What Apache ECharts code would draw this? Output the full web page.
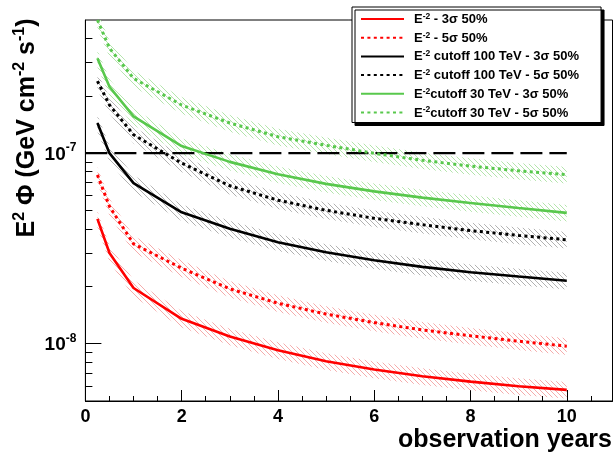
<!DOCTYPE html>
<html>
<head>
<meta charset="utf-8">
<script src="https://cdn.jsdelivr.net/npm/echarts@6/dist/echarts.min.js"></script>
<style>
html, body { margin: 0; padding: 0; background: #fff; }
#main { width: 614px; height: 459px; }
</style>
</head>
<body>
<div id="main"></div>
<script>
// observation years at which sensitivities were computed
var years = [0.25, 0.5, 1, 2, 3, 4, 5, 6, 7, 8, 9, 10];

// E^2 Phi (GeV cm^-2 s^-1)
var e2_3s = [4.52e-8, 2.99e-8, 1.96e-8, 1.35e-8, 1.09e-8, 9.24e-9, 8.09e-9, 7.32e-9, 6.75e-9, 6.32e-9, 5.98e-9, 5.72e-9];
var e2_5s = [7.69e-8, 5.25e-8, 3.34e-8, 2.49e-8, 1.94e-8, 1.63e-8, 1.43e-8, 1.29e-8, 1.18e-8, 1.10e-8, 1.03e-8, 9.70e-9];
var cut100_3s = [1.44e-7, 1.00e-7, 6.96e-8, 4.89e-8, 4.01e-8, 3.41e-8, 3.02e-8, 2.74e-8, 2.53e-8, 2.37e-8, 2.25e-8, 2.14e-8];
var cut100_5s = [2.39e-7, 1.79e-7, 1.25e-7, 8.86e-8, 6.74e-8, 5.66e-8, 5.01e-8, 4.55e-8, 4.21e-8, 3.92e-8, 3.70e-8, 3.51e-8];
var cut30_3s = [3.15e-7, 2.23e-7, 1.56e-7, 1.09e-7, 9.00e-8, 7.74e-8, 6.90e-8, 6.30e-8, 5.84e-8, 5.47e-8, 5.15e-8, 4.86e-8];
var cut30_5s = [5.00e-7, 3.56e-7, 2.47e-7, 1.79e-7, 1.44e-7, 1.22e-7, 1.10e-7, 9.98e-8, 9.17e-8, 8.55e-8, 8.08e-8, 7.70e-8];

// relative half width of the hatched band around every curve
var bandRel = 0.1;

// reference flux level (dashed line)
var refX = [0, 10];
var refFlux = 1e-7;

// axis ticks
var xMajor = [0, 2, 4, 6, 8, 10];
var xMinor = [0.5, 1, 1.5, 2.5, 3, 3.5, 4.5, 5, 5.5, 6.5, 7, 7.5, 8.5, 9, 9.5, 10.5];
var yMajor = [1e-8, 1e-7];
var yMinor = [6e-9, 7e-9, 8e-9, 9e-9, 2e-8, 3e-8, 4e-8, 5e-8, 6e-8, 7e-8, 8e-8, 9e-8, 2e-7, 3e-7, 4e-7];

var names = ['e2_3s', 'e2_5s', 'cut100_3s', 'cut100_5s', 'cut30_3s', 'cut30_5s'];
var legendText = {
    e2_3s: '{e|E}{s|-2}{t| - 3σ 50%}',
    e2_5s: '{e|E}{s|-2}{t| - 5σ 50%}',
    cut100_3s: '{e|E}{s|-2}{t| cutoff 100 TeV - 3σ 50%}',
    cut100_5s: '{e|E}{s|-2}{t| cutoff 100 TeV - 5σ 50%}',
    cut30_3s: '{e|E}{s|-2}{t|cutoff 30 TeV - 3σ 50%}',
    cut30_5s: '{e|E}{s|-2}{t|cutoff 30 TeV - 5σ 50%}'
};
var curveData = {e2_3s: e2_3s, e2_5s: e2_5s, cut100_3s: cut100_3s, cut100_5s: cut100_5s, cut30_3s: cut30_3s, cut30_5s: cut30_5s};

var RED = '#ff0000', BLACK = '#000000', GREEN = '#58c84c';
var lineColor = {e2_3s: RED, e2_5s: RED, cut100_3s: BLACK, cut100_5s: BLACK, cut30_3s: GREEN, cut30_5s: GREEN};
var hatchColor = {e2_3s: '#f5acac', e2_5s: '#f5acac', cut100_3s: '#b2b2b2', cut100_5s: '#b2b2b2', cut30_3s: '#b4e4ac', cut30_5s: '#b4e4ac'};
var FONT = 'Liberation Sans';

function pairs(xs, ys) {
    return xs.map(function(x, i) { return [x, ys[i]]; });
}

// small tile with a "\" diagonal line, used as hatch fill
function hatch(color) {
    var s = 5;
    var c = document.createElement('canvas');
    c.width = s; c.height = s;
    var g = c.getContext('2d');
    g.strokeStyle = color;
    g.lineWidth = 1;
    g.beginPath();
    g.moveTo(-1, -1); g.lineTo(s + 1, s + 1);
    g.moveTo(-1, s - 1); g.lineTo(1, s + 1);
    g.moveTo(s - 1, -1); g.lineTo(s + 1, 1);
    g.stroke();
    return {image: c, repeat: 'repeat'};
}

var series = [];
series.push({
    type: 'custom', name: 'bands', silent: true, z: 1,
    data: names.map(function(n, k) { return [years[0], curveData[n][0], k]; }),
    encode: {x: 0, y: 1},
    renderItem: function(params, api) {
        var n = names[api.value(2)];
        var vals = curveData[n];
        var upper = years.map(function(x, i) { return api.coord([x, vals[i] * (1 + bandRel)]); });
        var lower = years.map(function(x, i) { return api.coord([x, vals[i] * (1 - bandRel)]); }).reverse();
        var cs = params.coordSys;
        return {
            type: 'polygon',
            shape: {points: upper.concat(lower)},
            style: {fill: hatch(hatchColor[n]), stroke: null},
            clipPath: {type: 'rect', shape: {x: cs.x, y: cs.y, width: cs.width, height: cs.height}}
        };
    }
});
names.forEach(function(n) {
    var dotted = n.indexOf('5s') >= 0;
    series.push({
        name: n, type: 'line', data: pairs(years, curveData[n]),
        showSymbol: false, symbol: 'none', z: 3, silent: true,
        itemStyle: {color: lineColor[n]},
        lineStyle: {color: lineColor[n], width: dotted ? 3 : 2.6, type: dotted ? [3, 3.4] : 'solid', cap: 'butt'}
    });
});
series.push({
    name: 'ref', type: 'line', data: refX.map(function(x) { return [x, refFlux]; }),
    showSymbol: false, symbol: 'none', z: 2, silent: true,
    lineStyle: {color: BLACK, width: 2.4, type: [22, 7]}
});

function supLabel(v) {
    var e = Math.round(Math.log(v) / Math.LN10);
    return '{a|10}{s|' + e + '}';
}

var chart = echarts.init(document.getElementById('main'), null, {renderer: 'canvas'});
chart.setOption({
    animation: false,
    backgroundColor: '#fff',
    grid: {left: 85.4, right: 1.5, top: 20, bottom: 58, show: true, borderColor: '#000', borderWidth: 1, backgroundColor: 'transparent'},
    xAxis: [{
        type: 'value', min: 0, max: 10.95, position: 'bottom',
        axisLine: {lineStyle: {color: '#000', width: 1}},
        axisTick: {customValues: xMajor, inside: true, length: 11, lineStyle: {color: '#000'}},
        axisLabel: {customValues: xMajor, margin: 7, color: '#000', fontFamily: FONT, fontWeight: 'bold', fontSize: 18},
        splitLine: {show: false}
    }, {
        type: 'value', min: 0, max: 10.95, position: 'bottom',
        axisLine: {show: false},
        axisTick: {customValues: xMinor, inside: true, length: 5, lineStyle: {color: '#000'}},
        axisLabel: {show: false},
        splitLine: {show: false}
    }],
    yAxis: [{
        type: 'log', logBase: 10, min: 5e-9, max: 5e-7, position: 'left',
        axisLine: {show: true, lineStyle: {color: '#000', width: 1}},
        axisTick: {customValues: yMajor, inside: true, length: 16, lineStyle: {color: '#000'}},
        axisLabel: {
            customValues: yMajor, margin: 9, formatter: supLabel,
            rich: {
                a: {fontFamily: FONT, fontWeight: 'bold', fontSize: 19, color: '#000', lineHeight: 22, verticalAlign: 'bottom'},
                s: {fontFamily: FONT, fontWeight: 'bold', fontSize: 12, color: '#000', lineHeight: 22, verticalAlign: 'top'}
            }
        },
        splitLine: {show: false}
    }, {
        type: 'log', logBase: 10, min: 5e-9, max: 5e-7, position: 'left',
        axisLine: {show: false},
        axisTick: {customValues: yMinor, inside: true, length: 7, lineStyle: {color: '#000'}},
        axisLabel: {show: false},
        splitLine: {show: false}
    }],
    legend: {
        orient: 'vertical', left: 352, top: 7,
        data: names, selectedMode: false,
        padding: [5, 22, 3, 8],
        itemWidth: 43, itemHeight: 14, itemGap: 4.7,
        itemStyle: {opacity: 0},
        backgroundColor: '#fff', borderColor: '#000', borderWidth: 1, borderRadius: 0,
        shadowColor: '#000', shadowOffsetX: 3, shadowOffsetY: 3, shadowBlur: 0.01,
        formatter: function(n) { return legendText[n]; },
        textStyle: {
            color: '#000', fontFamily: FONT, fontWeight: 'bold', fontSize: 13,
            rich: {
                e: {fontFamily: FONT, fontWeight: 'bold', fontSize: 13, color: '#000', padding: [0, 0, 0, 5], lineHeight: 14, verticalAlign: 'bottom'},
                t: {fontFamily: FONT, fontWeight: 'bold', fontSize: 13, color: '#000', lineHeight: 14, verticalAlign: 'bottom'},
                s: {fontFamily: FONT, fontWeight: 'bold', fontSize: 8.5, color: '#000', lineHeight: 14, verticalAlign: 'top'}
            }
        }
    },
    graphic: [{
        type: 'text', x: 26, y: 128, rotation: Math.PI / 2,
        style: {
            text: '{t|E}{s|2}{t| Φ (GeV cm}{s|-2}{t| s}{s|-1}{t|)}',
            align: 'center', verticalAlign: 'middle',
            rich: {
                t: {fontFamily: FONT, fontWeight: 'bold', fontSize: 25, fill: '#000', lineHeight: 28, verticalAlign: 'bottom'},
                s: {fontFamily: FONT, fontWeight: 'bold', fontSize: 16, fill: '#000', lineHeight: 28, verticalAlign: 'top'}
            }
        }
    }, {
        type: 'text', x: 612, y: 440,
        style: {
            text: 'observation years', align: 'right', verticalAlign: 'middle',
            fontFamily: FONT, fontWeight: 'bold', fontSize: 25, fill: '#000'
        }
    }],
    series: series
});
</script>
</body>
</html>
